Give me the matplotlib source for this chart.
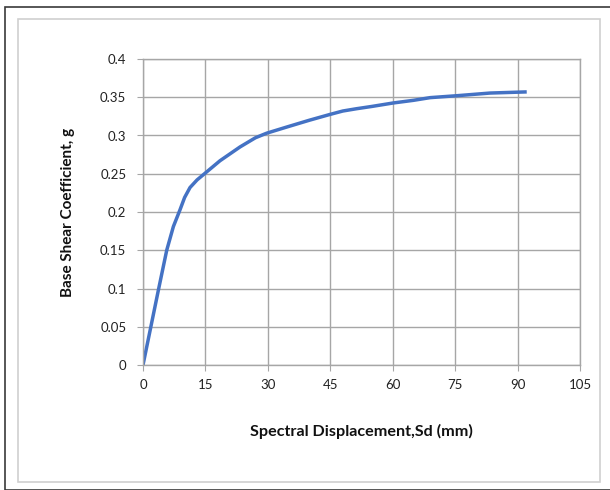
import matplotlib.pyplot as plt
from matplotlib.patches import Rectangle
import numpy as np

# pushover curve
sd = [0, 3.7, 5.7, 7.3, 8.9, 10.0, 11.3, 13.0, 14.9, 18.5, 23.3, 27.0,
      29.7, 34.5, 40.0, 44.9, 48.0, 51.3, 55.0, 60.1, 65.0, 69.0, 75.4, 83.4, 92.2]
coef = [0, 0.098, 0.150, 0.181, 0.203, 0.219, 0.232, 0.242, 0.2506,
        0.267, 0.285, 0.297, 0.303, 0.311, 0.320, 0.3275, 0.332, 0.335, 0.338,
        0.3425, 0.346, 0.3495, 0.352, 0.3555, 0.357]
xticks = [0, 15, 30, 45, 60, 75, 90, 105]
yticks = [0, 0.05, 0.1, 0.15, 0.2, 0.25, 0.3, 0.35, 0.4]
ylabels = ['0', '0.05', '0.1', '0.15', '0.2', '0.25', '0.3', '0.35', '0.4']

plt.rcParams['font.family'] = ['Lato', 'DejaVu Sans']

W, H = 610, 490
fig = plt.figure(figsize=(W / 100, H / 100), dpi=100)
fig.patch.set_facecolor('white')

# outer dark frame and inner light frame
fig.patches.append(Rectangle((5 / W, 0), 1, 1 - 7 / H, transform=fig.transFigure,
                             fill=False, ec='#3a3a3a', lw=1.2))
fig.patches.append(Rectangle((18 / W, 1 - 482 / H), (600 - 18) / W, (482 - 19) / H,
                             transform=fig.transFigure, fill=False, ec='#d0d0d0', lw=1.2))

ax = fig.add_axes([143 / W, 1 - 365 / H, (580 - 143) / W, (365 - 59) / H])
ax.plot(sd, coef, color='#4472C4', lw=2.5, solid_capstyle='butt', solid_joinstyle='round')

ax.set_xlim(0, 105)
ax.set_ylim(0, 0.4)
ax.set_xticks(xticks)
ax.set_yticks(yticks)
ax.set_yticklabels(ylabels)
ax.grid(True, color='#a6a6a6', lw=1)
ax.set_axisbelow(True)
for s in ax.spines.values():
    s.set_color('#a6a6a6')
    s.set_linewidth(1)
ax.tick_params(length=4, color='#a6a6a6', labelsize=9.5, labelcolor='#222222')
ax.tick_params(axis='y', pad=8)
ax.tick_params(axis='x', pad=6)

ax.set_xlabel('Spectral Displacement,Sd (mm)', fontsize=11.6, fontweight='bold',
              labelpad=24, color='#111111')
ax.set_ylabel('Base Shear Coefficient, g', fontsize=11, fontweight='bold',
              labelpad=18, color='#111111')

plt.savefig('out.png', dpi=100)
